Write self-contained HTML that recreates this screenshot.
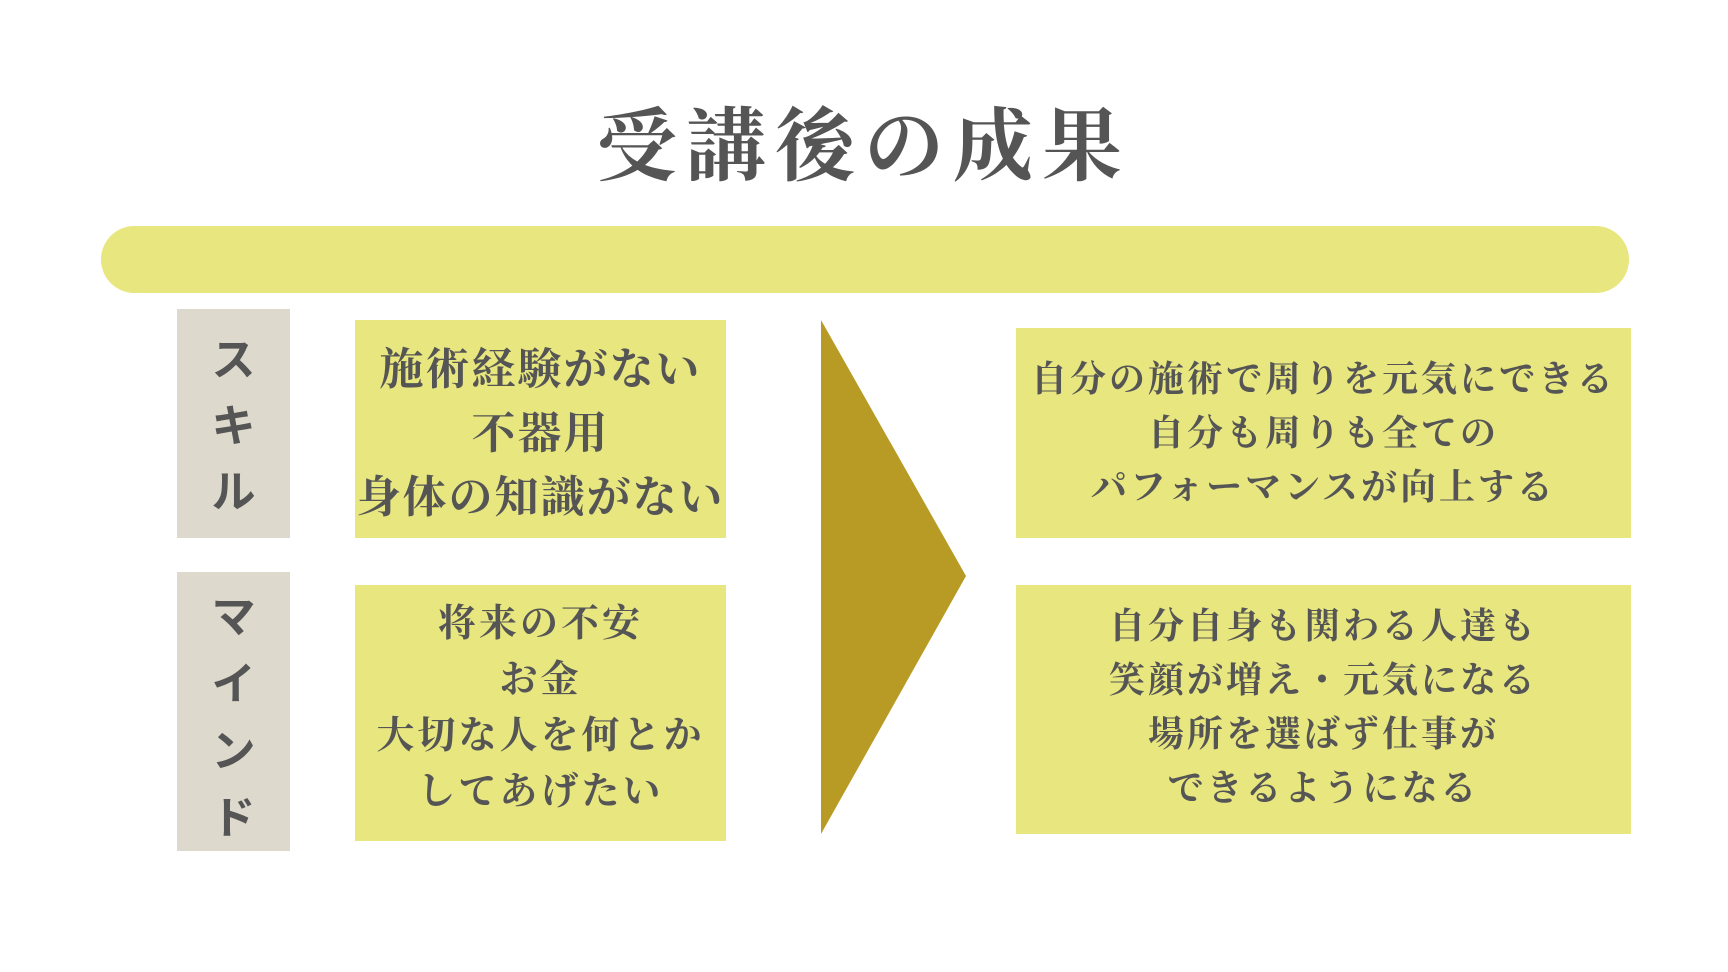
<!DOCTYPE html>
<html><head><meta charset="utf-8"><style>
body{margin:0;width:1728px;height:972px;background:#fff;position:relative;overflow:hidden;font-family:"Liberation Serif","Noto Serif CJK SC",serif;color:#555;}
.a{position:absolute;box-sizing:border-box;}
.y{background:#e8e67e;display:flex;flex-direction:column;justify-content:center;align-items:center;text-align:center;font-weight:bold;white-space:nowrap;}
.g{background:#ddd9cc;display:flex;flex-direction:column;align-items:center;font-family:"Liberation Sans","Noto Sans CJK JP",sans-serif;font-weight:bold;font-size:44px;}
</style></head><body>
<div class="a" style="left:0;width:1728px;top:98px;text-align:center;font-size:80px;font-weight:bold;letter-spacing:9px;line-height:100px;">受講後の成果</div>
<div class="a" style="left:101px;top:226px;width:1528px;height:67px;border-radius:34px;background:#e8e67e;"></div>
<div class="a g" style="left:177px;top:309px;width:113px;height:229px;padding-top:19px;line-height:66px;"><div>ス</div><div>キ</div><div>ル</div></div>
<div class="a g" style="left:177px;top:572px;width:113px;height:279px;padding-top:12px;line-height:67px;"><div>マ</div><div>イ</div><div>ン</div><div>ド</div></div>
<div class="a y" style="left:355px;top:320px;width:371px;height:218px;padding-top:10px;font-size:44px;line-height:64px;letter-spacing:2px;"><div>施術経験がない</div><div>不器用</div><div>身体の知識がない</div></div>
<div class="a y" style="left:355px;top:585px;width:371px;height:256px;padding-bottom:11px;font-size:38px;line-height:56px;letter-spacing:3px;"><div>将来の不安</div><div>お金</div><div>大切な人を何とか</div><div>してあげたい</div></div>
<svg class="a" style="left:0;top:0" width="1728" height="972"><polygon points="821,320 966,576 821,834" fill="#b89b24"/></svg>
<div class="a y" style="left:1016px;top:328px;width:615px;height:210px;font-size:36px;line-height:54px;letter-spacing:3px;"><div>自分の施術で周りを元気にできる</div><div>自分も周りも全ての</div><div>パフォーマンスが向上する</div></div>
<div class="a y" style="left:1016px;top:585px;width:615px;height:249px;padding-bottom:6px;font-size:36px;line-height:54px;letter-spacing:3px;"><div>自分自身も関わる人達も</div><div>笑顔が増え・元気になる</div><div>場所を選ばず仕事が</div><div>できるようになる</div></div>
</body></html>
